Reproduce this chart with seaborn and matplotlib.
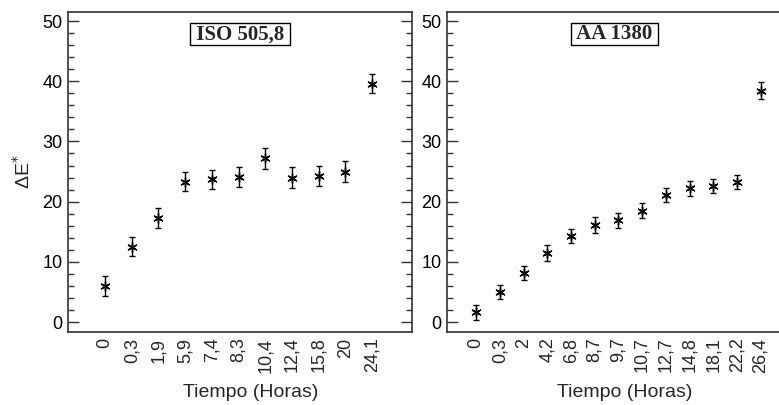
import numpy as np
import pandas as pd
import seaborn as sns
import matplotlib.pyplot as plt
from matplotlib.ticker import MultipleLocator

# ISO 505,8 panel
iso_labels = ["0", "0,3", "1,9", "5,9", "7,4", "8,3", "10,4", "12,4", "15,8", "20", "24,1"]
iso_de = [6.0, 12.5, 17.3, 23.3, 23.7, 24.1, 27.2, 24.0, 24.3, 25.0, 39.6]
iso_err = [1.6, 1.6, 1.6, 1.6, 1.6, 1.7, 1.7, 1.8, 1.7, 1.7, 1.6]

# AA 1380 panel
aa_labels = ["0", "0,3", "2", "4,2", "6,8", "8,7", "9,7", "10,7", "12,7", "14,8", "18,1", "22,2", "26,4"]
aa_de = [1.6, 5.0, 8.1, 11.5, 14.3, 16.1, 16.9, 18.5, 21.1, 22.2, 22.6, 23.3, 38.4]
aa_err = [1.3, 1.2, 1.2, 1.3, 1.2, 1.3, 1.2, 1.3, 1.2, 1.2, 1.2, 1.2, 1.4]

sns.set_style("ticks")
plt.rcParams["font.family"] = ["Liberation Sans", "DejaVu Sans"]

fig = plt.figure(figsize=(7.79, 4.05), dpi=100)
ax1 = fig.add_axes([0.0873, 0.1802, 0.4416, 0.7902])
ax2 = fig.add_axes([0.5738, 0.1802, 0.4300, 0.7902])


def draw_panel(ax, labels, values, errs, title, xlim):
    df = pd.DataFrame({"pos": np.arange(len(labels)), "de": values, "err": errs})
    ax.errorbar(df["pos"], df["de"], yerr=df["err"], fmt="none",
                ecolor="black", elinewidth=1, capsize=2, capthick=1)
    sns.scatterplot(data=df, x="pos", y="de", ax=ax, marker=(6, 2, 0),
                    s=45, color="black", linewidth=1, edgecolor="black", legend=False)
    sns.scatterplot(data=df, x="pos", y="de", ax=ax, marker="o",
                    s=8, color="black", linewidth=0, legend=False)
    ax.set_xlim(*xlim)
    ax.set_ylim(-1.66, 51.5)
    ax.set_xticks(df["pos"])
    ax.set_xticklabels(labels, rotation=90, fontsize=13)
    ax.yaxis.set_major_locator(MultipleLocator(10))
    ax.yaxis.set_minor_locator(MultipleLocator(2))
    ax.tick_params(axis="y", which="major", direction="in", length=8,
                   width=1, labelsize=13, pad=4, colors="#333333", labelcolor="black")
    ax.tick_params(axis="y", which="minor", direction="in", length=4,
                   width=1, colors="#333333")
    ax.tick_params(axis="x", length=0, pad=4)
    for sp in ax.spines.values():
        sp.set_color("#333333")
        sp.set_linewidth(1.2)
    ax.set_xlabel("Tiempo (Horas)", fontsize=14)
    ax.xaxis.set_label_coords(0.53, -0.162)
    ax.set_ylabel("")
    ax.text(0.5, 0.93, " " + title + " ", transform=ax.transAxes, ha="center", va="center",
            fontsize=15, fontweight="bold", family=["Liberation Serif", "DejaVu Serif"],
            bbox=dict(boxstyle="square,pad=0.05", facecolor="white",
                      edgecolor="black", linewidth=1))


draw_panel(ax1, iso_labels, iso_de, iso_err, "ISO 505,8", (-1.39, 11.5))
draw_panel(ax2, aa_labels, aa_de, aa_err, "AA 1380", (-1.23, 12.9))

ax1.tick_params(axis="y", which="both", right=True)
ax2.spines["right"].set_visible(False)
ax1.set_ylabel("ΔE$^{*}$", fontsize=14, labelpad=6)

fig.savefig("out.png", dpi=100)
